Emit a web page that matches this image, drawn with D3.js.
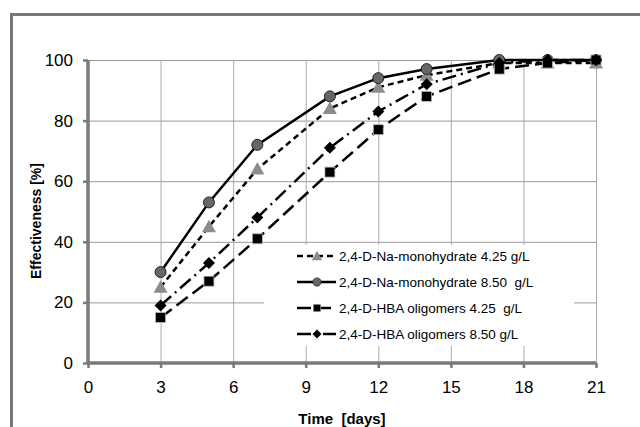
<!DOCTYPE html>
<html>
<head>
<meta charset="utf-8">
<script src="https://cdn.jsdelivr.net/npm/d3@7"></script>
<style>
  body { margin: 0; background: #fff; }
  svg { display: block; font-family: "Liberation Sans", Arial, sans-serif; }
</style>
</head>
<body>
<div id="chart-container"></div>
<script>
// Données
const days = [3, 5, 7, 10, 12, 14, 17, 19, 21];
const naMono425 = [25, 45, 64, 84, 91, 95, 99, 99, 99];
const naMono850 = [30, 53, 72, 88, 94, 97, 100, 100, 100];
const hbaOligo425 = [15, 27, 41, 63, 77, 88, 97, 99, 100];
const hbaOligo850 = [19, 33, 48, 71, 83, 92, 99, 100, 100];
const seriesNames = [
  "2,4-D-Na-monohydrate 4.25 g/L",
  "2,4-D-Na-monohydrate 8.50  g/L",
  "2,4-D-HBA oligomers 4.25  g/L",
  "2,4-D-HBA oligomers 8.50 g/L"
];
const xTicks = [0, 3, 6, 9, 12, 15, 18, 21];
const yTicks = [0, 20, 40, 60, 80, 100];

const series = [
  { name: seriesNames[0], values: naMono425, marker: "triangle", dash: "6,4", fill: "#8c8c8c" },
  { name: seriesNames[1], values: naMono850, marker: "circle", dash: null, fill: "#666" },
  { name: seriesNames[2], values: hbaOligo425, marker: "square", dash: "14,6", fill: "#000" },
  { name: seriesNames[3], values: hbaOligo850, marker: "diamond", dash: "14,5,2,5", fill: "#000" }
];

const W = 640, H = 427;
const margin = { top: 60, right: 44, bottom: 64, left: 88 };
const width = W - margin.left - margin.right;
const height = H - margin.top - margin.bottom;

const svg = d3.select("#chart-container").append("svg")
  .attr("width", W).attr("height", H);

// Cadre extérieur
svg.append("rect")
  .attr("x", 11.5).attr("y", 14.5)
  .attr("width", 660).attr("height", 440)
  .attr("fill", "none").attr("stroke", "#777").attr("stroke-width", 3);

const g = svg.append("g").attr("transform", `translate(${margin.left},${margin.top})`);

const x = d3.scaleLinear().domain([0, 21]).range([0, width]);
const y = d3.scaleLinear().domain([0, 100]).range([height, 0]);

// Grille
g.append("g").selectAll("line").data(yTicks.filter(d => d > 0)).enter().append("line")
  .attr("x1", 0).attr("x2", width)
  .attr("y1", d => y(d) + 0.5).attr("y2", d => y(d) + 0.5)
  .attr("stroke", "#999").attr("stroke-width", 1);
g.append("g").selectAll("line").data(xTicks.filter(d => d > 0)).enter().append("line")
  .attr("x1", d => x(d) + 0.5).attr("x2", d => x(d) + 0.5)
  .attr("y1", 0).attr("y2", height)
  .attr("stroke", "#aaa").attr("stroke-width", 1);

// Axes
const xAxis = g.append("g").attr("transform", `translate(0,${height})`)
  .call(d3.axisBottom(x).tickValues(xTicks).tickSize(5).tickPadding(13));
const yAxis = g.append("g")
  .call(d3.axisLeft(y).tickValues(yTicks).tickSize(5).tickPadding(10));
[xAxis, yAxis].forEach(a => {
  a.select(".domain").attr("stroke", "#7a7a7a").attr("stroke-width", 3.5);
  a.selectAll(".tick line").attr("stroke", "#7a7a7a").attr("stroke-width", 2.5);
  a.selectAll(".tick text").attr("font-size", 17).attr("fill", "#000")
    .attr("font-family", "Liberation Sans, Arial, sans-serif");
});
xAxis.select(".domain").attr("d", `M0,0H${width}`);
yAxis.select(".domain").attr("d", `M0,${height}V0`);

// Titres des axes
svg.append("text")
  .attr("x", margin.left + width / 2).attr("y", 424)
  .attr("text-anchor", "middle").attr("font-size", 15).attr("font-weight", "bold")
  .text("Time  [days]").style("white-space", "pre");
svg.append("text")
  .attr("transform", `translate(41,221) rotate(-90)`)
  .attr("text-anchor", "middle").attr("font-size", 14).attr("font-weight", "bold")
  .text("Effectiveness [%]");

// Symboles
function drawMarker(sel, type, fill) {
  if (type === "circle") {
    sel.append("circle").attr("r", 5.5).attr("fill", fill).attr("stroke", "#222").attr("stroke-width", 1);
  } else if (type === "triangle") {
    sel.append("path").attr("d", "M0,-7L7,5.5L-7,5.5Z").attr("fill", fill);
  } else if (type === "square") {
    sel.append("rect").attr("x", -5).attr("y", -5).attr("width", 10).attr("height", 10)
      .attr("fill", fill).attr("stroke", "#bbb").attr("stroke-width", 0.8);
  } else if (type === "diamond") {
    sel.append("path").attr("d", "M0,-6L6,0L0,6L-6,0Z").attr("fill", fill);
  }
}

const line = d3.line().x((d, i) => x(days[i])).y(d => y(d));

series.forEach(s => {
  g.append("path").datum(s.values)
    .attr("d", line).attr("fill", "none")
    .attr("stroke", "#000").attr("stroke-width", 2.5)
    .attr("stroke-dasharray", s.dash);
});
series.forEach(s => {
  g.append("g").selectAll("g").data(s.values).enter().append("g")
    .attr("transform", (d, i) => `translate(${x(days[i])},${y(d)})`)
    .each(function () { drawMarker(d3.select(this), s.marker, s.fill); });
});

// Légende
const legend = svg.append("g");
legend.append("rect")
  .attr("x", 264).attr("y", 245).attr("width", 310).attr("height", 101)
  .attr("fill", "#fff");
const rows = [256, 282, 308, 334];
series.forEach((s, i) => {
  const r = legend.append("g").attr("transform", `translate(0,${rows[i]})`);
  r.append("line").attr("x1", 297).attr("x2", 336).attr("y1", 0).attr("y2", 0)
    .attr("stroke", "#000").attr("stroke-width", 2.5)
    .attr("stroke-dasharray", s.dash);
  const m = r.append("g").attr("transform", "translate(317,0) scale(0.75)");
  drawMarker(m, s.marker, s.fill);
  r.append("text").attr("x", 339).attr("y", 5)
    .attr("font-size", 13.5).attr("fill", "#000")
    .style("white-space", "pre").text(s.name);
});
</script>
</body>
</html>
